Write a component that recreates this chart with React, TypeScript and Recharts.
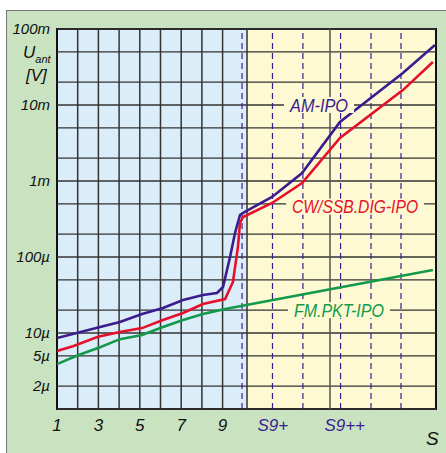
import React from 'react';
import { LineChart, Line, XAxis, YAxis, ReferenceArea, ReferenceLine, ReferenceDot } from 'recharts';

// S-meter position (x) vs. antenna voltage in volts (y)
const amS = [1, 3.08, 4.04, 5.11, 6.12, 7.09, 8.05, 8.73, 9.02, 9.36, 9.6, 9.84, 9.99, 11.39, 12.84, 14.67, 17.71, 19.26];
const amU = [8.6e-6, 1.2e-5, 1.4e-5, 1.78e-5, 2.13e-5, 2.72e-5, 3.16e-5, 3.36e-5, 4.03e-5, 1e-4, 2.07e-4, 3.57e-4, 3.8e-4, 6.16e-4, 1.27e-3, 5.97e-3, 2.63e-2, 6.16e-2];

const cwS = [1, 1.77, 2.98, 4.04, 5.11, 6.12, 7.09, 8.05, 9.12, 9.5, 9.74, 9.84, 9.99, 11.39, 12.84, 14.67, 17.71, 19.16];
const cwU = [5.8e-6, 6.7e-6, 8.9e-6, 1.03e-5, 1.16e-5, 1.48e-5, 1.83e-5, 2.41e-5, 2.8e-5, 4.69e-5, 1.35e-4, 2.8e-4, 3.36e-4, 5.14e-4, 9.4e-4, 3.68e-3, 1.57e-2, 3.68e-2];

const fmS = [1, 2.01, 3.08, 4.04, 5.11, 6.12, 7.09, 8.05, 9.12, 19.16];
const fmU = [3.9e-6, 5.1e-6, 6.5e-6, 8.3e-6, 9.4e-6, 1.2e-5, 1.48e-5, 1.78e-5, 2.07e-5, 6.75e-5];

const yTicks = [1e-6, 2e-6, 5e-6, 1e-5, 2e-5, 5e-5, 1e-4, 2e-4, 5e-4, 1e-3, 2e-3, 5e-3, 1e-2, 2e-2, 5e-2, 1e-1];
const yLabels = ['', '2µ', '5µ', '10µ', '', '', '100µ', '', '', '1m', '', '', '10m', '', '', '100m'];

const xTicks = [1, 3, 5, 7, 9, 11.43, 14.9];
const xLabels = ['1', '3', '5', '7', '9', 'S9+', 'S9++'];

const solidS = [2, 3, 4, 5, 6, 7, 8, 9, 10.18, 14.19];
const dashedS = [9.94, 11.41, 12.88, 14.7, 16.17, 17.62];

const purple = '#3b1c8f';
const red = '#e5102c';
const green = '#12994a';
const font = "'Liberation Sans', Arial, sans-serif";

const toRows = (s: number[], u: number[]) => s.map((v, i) => ({ s: v, u: u[i] }));
const amData = toRows(amS, amU);
const cwData = toRows(cwS, cwU);
const fmData = toRows(fmS, fmU);

const XTick = (props: any) => {
  const { x, y, payload } = props;
  const i = xTicks.findIndex((t) => Math.abs(t - payload.value) < 1e-6);
  const label = i >= 0 ? xLabels[i] : '';
  return (
    <text x={x} y={y + 22} textAnchor="middle" fontFamily={font} fontSize={17} fontStyle="italic"
      fill={label.startsWith('S') ? purple : '#111'}>{label}</text>
  );
};

const yFormat = (v: number) => {
  const i = yTicks.findIndex((t) => Math.abs(t - v) / t < 1e-6);
  return i >= 0 ? yLabels[i] : '';
};

const labelBox = (text: string, color: string, w: number) => (props: any) => {
  const { cx, cy } = props;
  return (
    <g>
      <rect x={cx - w / 2 - 6} y={cy - 8} width={w + 12} height={16} fill="#fdfad3" />
      <text x={cx} y={cy + 6.5} textAnchor="middle" fontFamily={font} fontSize={18} fontStyle="italic"
        fill={color} textLength={w} lengthAdjust="spacingAndGlyphs">{text}</text>
    </g>
  );
};

export default function App() {
  return (
    <div style={{ position: 'fixed', left: 0, top: 0, width: 446, height: 453, background: '#fff', overflow: 'hidden' }}>
      <div style={{ position: 'absolute', left: 6, top: 10, width: 440, height: 443, background: '#c9e3c1',
        borderTop: '1px solid #777', borderLeft: '1px solid #777' }} />
      <div style={{ position: 'absolute', left: 0, top: 0 }}>
        <LineChart width={446} height={453} margin={{ top: 29, right: 10, bottom: 14, left: 7 }}>
          <ReferenceArea x1={1} x2={10.18} fill="#dcedfa" fillOpacity={1} stroke="none" />
          <ReferenceArea x1={10.18} x2={19.31} fill="#fdfad3" fillOpacity={1} stroke="none" />
          {yTicks.map((v) => (
            <ReferenceLine key={'h' + v} y={v} stroke="#333" strokeWidth={1.3} />
          ))}
          {solidS.map((s) => (
            <ReferenceLine key={'s' + s} x={s} stroke={s === 14.19 ? '#555' : '#333'} strokeWidth={1.5} />
          ))}
          {dashedS.map((s) => (
            <ReferenceLine key={'d' + s} x={s} stroke={purple} strokeWidth={1.2} strokeDasharray="6 4" />
          ))}
          <XAxis dataKey="s" type="number" domain={[1, 19.31]} allowDataOverflow ticks={xTicks}
            axisLine={false} tickLine={false} tickSize={0} tickMargin={0} height={30} tick={<XTick />} />
          <YAxis type="number" scale="log" domain={[1e-6, 0.1]} allowDataOverflow ticks={yTicks}
            tickFormatter={yFormat} axisLine={false} tickLine={false} tickSize={0} tickMargin={7} width={50}
            tick={{ fontFamily: font, fontSize: 15, fontStyle: 'italic', fill: '#111' }} />
          <Line data={fmData} dataKey="u" type="linear" stroke={green} strokeWidth={2.6} dot={false} isAnimationActive={false} />
          <Line data={cwData} dataKey="u" type="linear" stroke={red} strokeWidth={2.6} dot={false} isAnimationActive={false} />
          <Line data={amData} dataKey="u" type="linear" stroke={purple} strokeWidth={2.6} dot={false} isAnimationActive={false} />
          <ReferenceDot x={13.66} y={1e-2} r={0} shape={labelBox('AM-IPO', purple, 58)} />
          <ReferenceDot x={15.4} y={4.6e-4} r={0} shape={labelBox('CW/SSB.DIG-IPO', red, 126)} />
          <ReferenceDot x={14.62} y={2e-5} r={0} shape={labelBox('FM.PKT-IPO', green, 90)} />
          <ReferenceArea x1={1} x2={19.31} fill="none" stroke="#111" strokeWidth={2} />
        </LineChart>
      </div>
      <div style={{ position: 'absolute', left: 23, top: 43, fontFamily: font, fontStyle: 'italic', fontSize: 17, color: '#111', lineHeight: '20px' }}>
        U<span style={{ fontSize: 11, position: 'relative', top: 5 }}>ant</span>
      </div>
      <div style={{ position: 'absolute', left: 26, top: 66, fontFamily: font, fontStyle: 'italic', fontSize: 17, color: '#111', lineHeight: '20px' }}>
        [V]
      </div>
      <div style={{ position: 'absolute', left: 426, top: 428, fontFamily: font, fontStyle: 'italic', fontSize: 19, color: '#111', lineHeight: '22px' }}>
        S
      </div>
    </div>
  );
}
